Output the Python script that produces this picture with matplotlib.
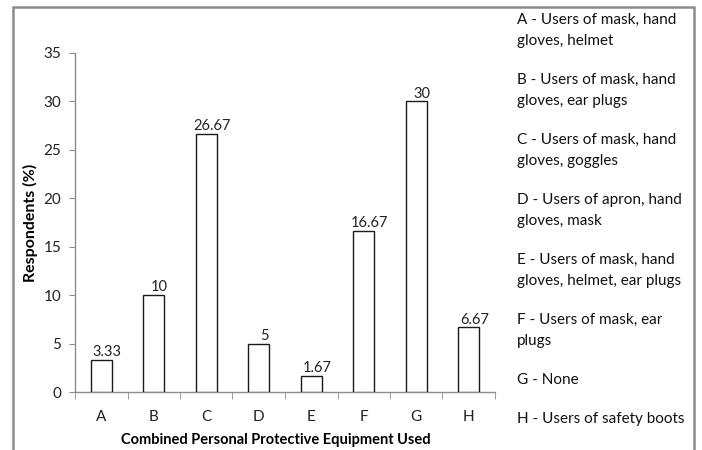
import matplotlib
matplotlib.use("Agg")
import matplotlib.pyplot as plt
import matplotlib.patches as patches
import numpy as np

# Data
categories = ["A", "B", "C", "D", "E", "F", "G", "H"]
values = [3.33, 10, 26.67, 5, 1.67, 16.67, 30, 6.67]
value_labels = ["3.33", "10", "26.67", "5", "1.67", "16.67", "30", "6.67"]
key_entries = [
    ["A - Users of mask, hand", "gloves, helmet"],
    ["B - Users of mask, hand", "gloves, ear plugs"],
    ["C - Users of mask, hand", "gloves, goggles"],
    ["D - Users of apron, hand", "gloves, mask"],
    ["E - Users of mask, hand", "gloves, helmet, ear plugs"],
    ["F - Users of mask, ear", "plugs"],
    ["G - None"],
    ["H - Users of safety boots"],
]

plt.rcParams['font.family'] = ['Lato', 'DejaVu Sans']

W, H = 702, 450
fig = plt.figure(figsize=(W / 100, H / 100), dpi=100)
ax = fig.add_axes([75 / W, 1 - 392 / H, 420 / W, 339 / H])

# Outer frame (no bottom edge visible)
frame = patches.Rectangle((13 / W, -0.05), 681 / W, 1.05 - 7 / H,
                          transform=fig.transFigure, fill=False,
                          edgecolor='#8c8c8c', linewidth=1.8)
fig.add_artist(frame)

x = np.arange(len(categories))
ax.bar(x, values, width=0.4, color='white', edgecolor='#1a1a1a',
       linewidth=1.0, zorder=3)

for xi, v, lab in zip(x, values, value_labels):
    ax.annotate(lab, (xi, v), xytext=(4, 0.5), textcoords='offset points',
                ha='center', va='bottom', fontsize=10.5, color='#222222')

ax.set_xlim(-0.5, len(categories) - 0.5)
ax.set_ylim(0, 35)
ax.set_yticks(np.arange(0, 36, 5))
ax.set_xticks(x)
ax.set_xticklabels(categories)
ax.set_xticks(np.arange(-0.5, len(categories), 1), minor=True)

for s in ['top', 'right']:
    ax.spines[s].set_visible(False)
for s in ['left', 'bottom']:
    ax.spines[s].set_color('#8c8c8c')
    ax.spines[s].set_linewidth(1.0)

ax.tick_params(axis='y', length=4, color='#8c8c8c', labelsize=11,
               labelcolor='#222222', pad=6)
ax.tick_params(axis='x', which='major', length=0, labelsize=11,
               labelcolor='#222222', pad=13)
ax.tick_params(axis='x', which='minor', length=5, color='#8c8c8c')

ax.set_ylabel('Respondents (%)', fontsize=11.5, fontweight='bold')
ax.yaxis.set_label_coords((30 - 75) / 420, 0.5)
ax.set_xlabel('Combined Personal Protective Equipment Used', fontsize=10.5,
              fontweight='bold')
ax.xaxis.set_label_coords((276 - 75) / 420, -(440 - 392) / 339)
ax.xaxis.label.set_va('center')
ax.yaxis.label.set_va('center')

# Category key on the right, one text per line
y = 20
for entry in key_entries:
    for line in entry:
        fig.text(517 / W, 1 - y / H, line, fontsize=11, color='#111111',
                 ha='left', va='center')
        y += 21.5
    y += 17

fig.savefig('out.png', dpi=100)
